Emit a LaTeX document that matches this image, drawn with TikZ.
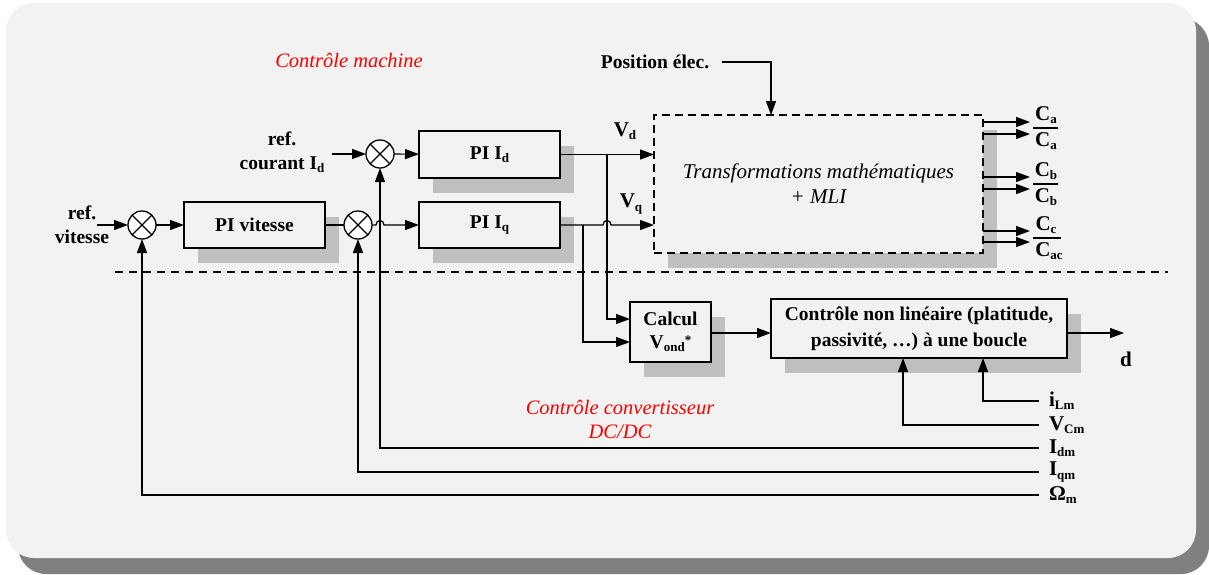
\documentclass[tikz,border=0pt]{standalone}
\usepackage{fontspec}
\setmainfont{Liberation Serif}
\usetikzlibrary{arrows.meta,calc}
\pgfdeclarelayer{panel}\pgfdeclarelayer{shadow}
\pgfsetlayers{panel,shadow,main}
\definecolor{panelc}{HTML}{F2F2F2}
\definecolor{outshadow}{HTML}{808080}
\definecolor{boxshadow}{HTML}{BFBFBF}
\definecolor{redlbl}{HTML}{FF0000}
\newcommand{\lsub}[1]{\raisebox{-0.35ex}{\fontsize{13}{13}\selectfont #1}}
\newcommand{\lsup}[1]{\raisebox{0.5ex}{\fontsize{13}{13}\selectfont #1}}
\newcommand{\shadowof}[1]{\begin{pgfonlayer}{shadow}\fill[boxshadow] ([shift={(14,15)}]#1.north west) rectangle ([shift={(14,15)}]#1.south east);\end{pgfonlayer}}
\begin{document}
\begin{tikzpicture}[x=1pt,y=-1pt,
  txt/.style={font=\fontsize{19.5}{24}\selectfont\bfseries, align=center, inner sep=1pt},
  block/.style={draw, line width=1.3pt, fill=panelc, font=\fontsize{19.5}{25}\selectfont\bfseries, align=center, inner sep=0pt, outer sep=0pt},
  sumc/.style={draw, circle, fill=white, minimum size=28pt, inner sep=0pt, line width=1.3pt, outer sep=0pt},
  arr/.style={-{Triangle[length=14pt,width=10pt]}, line width=1.2pt},
  ln/.style={line width=1.2pt},
  redtxt/.style={font=\fontsize{20.5}{24}\selectfont\itshape, text=redlbl, align=center, inner sep=0pt},
  fblbl/.style={anchor=west, font=\fontsize{21}{22}\selectfont\bfseries, inner sep=0pt, inner xsep=10pt, outer sep=0pt},
  clbl/.style={font=\fontsize{21}{22}\selectfont\bfseries, inner sep=0pt}
]
\useasboundingbox (0,0) rectangle (1209,574);
\begin{pgfonlayer}{panel}
  \fill[outshadow, rounded corners=28pt] (18,18) rectangle (1209,574);
  \fill[panelc, rounded corners=28pt] (6,3) rectangle (1196,558);
\end{pgfonlayer}

% red titles
\node[redtxt] (tmach) at (349,60) {Contrôle machine};
\node[redtxt] (tconv) at (620,419) {Contrôle convertisseur\\DC/DC};

% divider
\draw[line width=1.2pt, dash pattern=on 8pt off 6pt] (115,272) -- (1168,272);

% blocks
\node[block, minimum width=141pt, minimum height=46pt] (piv) at (254.5,225) {PI vitesse};
\node[block, minimum width=141pt, minimum height=47pt] (pid) at (489.5,154.5) {PI I\lsub{d}};
\node[block, minimum width=141pt, minimum height=46pt] (piq) at (489.5,225) {PI I\lsub{q}};
\node[block, minimum width=81pt, minimum height=60pt, font=\fontsize{19.5}{23}\selectfont\bfseries] (calc) at (670.5,332) {Calcul\\V\lsub{ond}\lsup{*}};
\node[block, minimum width=296pt, minimum height=59pt, font=\fontsize{19.5}{26}\selectfont\bfseries] (nl) at (919,328.5) {Contrôle non linéaire (platitude,\\passivité, …) à une boucle};
\node[block, dash pattern=on 8pt off 5pt, minimum width=329pt, minimum height=138pt, font=\fontsize{21}{25}\selectfont\itshape] (tm) at (818.5,184) {Transformations mathématiques\\+ MLI};
\shadowof{piv}\shadowof{pid}\shadowof{piq}\shadowof{calc}\shadowof{nl}\shadowof{tm}

% summing junctions
\foreach \n/\x/\y in {s1/142/225, s2/358/225, s3/380/154}{
  \node[sumc] (\n) at (\x,\y) {};
  \draw[line width=1.2pt] (\n.north west) -- (\n.south east) (\n.north east) -- (\n.south west);
}

% input labels
\node[txt] (refv) at (82,225) {ref.\\vitesse};
\coordinate (in1) at (97,225);
\node[txt] (refi) at (282,152) {ref.\\courant I\lsub{d}};
\coordinate (in2) at (332,154);
\node[txt] (pos) at (655,62) {Position élec.};

% forward path
\draw[arr] (in1) -- (s1);
\draw[arr] (s1) -- (piv);
\draw[ln] (piv) -- (s2);
\draw[arr] (s2.east) -- ($(s3.south |- s2)+(-4,0)$) .. controls +(0,-6) and +(0,-6) .. ($(s3.south |- s2)+(4,0)$) -- (piq.west);
\draw[arr] (in2) -- (s3);
\draw[arr] (s3) -- (pid);

\coordinate (bd) at (607,154);
\coordinate (bq) at (583,225);
\draw[arr] (pid.east) -- (tm.west |- pid.east);
\draw[arr] (piq.east) -- ($(bd |- piq.east)+(-4,0)$) .. controls +(0,-6) and +(0,-6) .. ($(bd |- piq.east)+(4,0)$) -- (tm.west |- piq.east);
\node[txt, font=\fontsize{21}{22}\selectfont\bfseries] (vd) at (625,131) {V\lsub{d}};
\node[txt, font=\fontsize{21}{22}\selectfont\bfseries] (vq) at (631,204) {V\lsub{q}};
\draw[arr] (bd) |- ($(calc.west)+(0,-13)$);
\draw[arr] (bq) |- ($(calc.west)+(0,10)$);
\draw[arr] (calc.east |- 0,333) -- (nl.west |- 0,333);
\coordinate (dout) at (1124,333);
\draw[arr] (nl.east |- dout) -- (dout);
\node[txt, font=\fontsize{21}{22}\selectfont\bfseries] (dl) at (1126,359) {d};

\draw[arr] ([xshift=12pt]pos.east) -| ($(tm.north)+(-47.5,0)$);

% PWM outputs
\foreach \y in {122,134,177,189,231,242}{
  \draw[arr] (tm.east |- 0,\y) -- (1030,\y);
}
\node[clbl] (ca1) at (1046,115) {C\lsub{a}};
\node[clbl] (ca2) at (1046,141) {C\lsub{a}};
\draw[line width=1.2pt] (1033,128) -- (1058,128);
\node[clbl] (cb1) at (1046,171) {C\lsub{b}};
\node[clbl] (cb2) at (1046,197) {C\lsub{b}};
\draw[line width=1.2pt] (1033,184) -- (1058,184);
\node[clbl] (cc1) at (1046,225) {C\lsub{c}};
\node[clbl] (cc2) at (1049,251) {C\lsub{ac}};
\draw[line width=1.2pt] (1033,238) -- (1061,238);

% feedback
\node[fblbl] (ilm) at (1039,401) {i\lsub{Lm}};
\node[fblbl] (vcm) at (1039,425) {V\lsub{Cm}};
\node[fblbl] (idm) at (1039,448) {I\lsub{dm}};
\node[fblbl] (iqm) at (1039,472) {I\lsub{qm}};
\node[fblbl] (om) at (1039,495) {Ω\lsub{m}};
\draw[arr] (ilm.west) -| ($(nl.south)+(64,0)$);
\draw[arr] (vcm.west) -| ($(nl.south)+(-16,0)$);
\draw[arr] (idm.west) -| (s3.south);
\draw[arr] (iqm.west) -| (s2.south);
\draw[arr] (om.west) -| (s1.south);
\end{tikzpicture}
\end{document}
